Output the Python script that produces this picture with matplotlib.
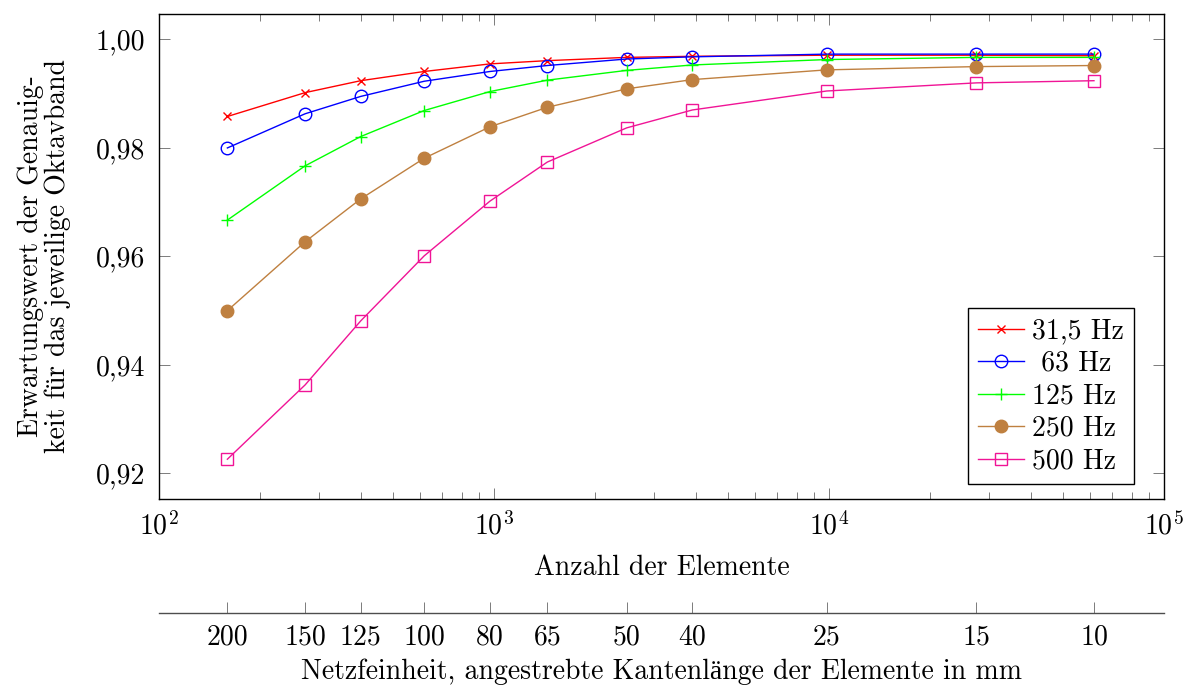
import numpy as np
import matplotlib
matplotlib.use("Agg")
import matplotlib.pyplot as plt
from matplotlib.ticker import FixedLocator, FuncFormatter, LogLocator, NullFormatter

plt.rcParams['font.family'] = ['cmr10', 'Liberation Serif']
plt.rcParams['mathtext.fontset'] = 'cm'
plt.rcParams['axes.formatter.use_mathtext'] = True
plt.rcParams['font.size'] = 20

# number of elements per mesh and target edge length (mm)
n_elements = [160, 273, 400, 619, 973, 1443, 2489, 3908, 9843, 27560, 61800]
edge_mm = ['200', '150', '125', '100', '80', '65', '50', '40', '25', '15', '10']

hz_31 = [0.9858, 0.9902, 0.9924, 0.9941, 0.9955, 0.9961, 0.9967, 0.9969, 0.9971, 0.9971, 0.9970]
hz_63 = [0.9800, 0.9863, 0.9895, 0.9923, 0.9941, 0.9952, 0.9964, 0.9968, 0.9973, 0.9973, 0.9973]
hz_125 = [0.9667, 0.9767, 0.9821, 0.9869, 0.9904, 0.9925, 0.9943, 0.9953, 0.9963, 0.9967, 0.9967]
hz_250 = [0.9500, 0.9627, 0.9706, 0.9781, 0.9839, 0.9875, 0.9909, 0.9926, 0.9944, 0.9950, 0.9952]
hz_500 = [0.9226, 0.9363, 0.9481, 0.9601, 0.9702, 0.9774, 0.9837, 0.9870, 0.9905, 0.9920, 0.9924]

fig = plt.figure(figsize=(11.86, 6.87), dpi=100)
ax = fig.add_axes([159/1186, 1 - 499/687, 1005/1186, 485/687])

ax.plot(n_elements, hz_31, color='#ff0000', marker='x', ms=6, mew=1.0, lw=1.0, label='31,5 Hz')
ax.plot(n_elements, hz_63, color='#0000ff', marker='o', ms=9, mfc='none', mew=1.0, lw=1.0, label=' 63 Hz')
ax.plot(n_elements, hz_125, color='#00ff00', marker='+', ms=9, mew=1.0, lw=1.0, label='125 Hz')
ax.plot(n_elements, hz_250, color='#bf8040', marker='o', ms=9, lw=1.0, label='250 Hz')
ax.plot(n_elements, hz_500, color='#f01496', marker='s', ms=8, mfc='none', mew=1.0, lw=1.0, label='500 Hz')

ax.set_xscale('log')
ax.set_xlim(100, 100000)
ax.set_ylim(0.91526, 1.0047)
ax.yaxis.set_major_locator(FixedLocator([0.92, 0.94, 0.96, 0.98, 1.00]))
ax.yaxis.set_major_formatter(FuncFormatter(lambda v, p: f"{v:.2f}".replace('.', ',')))
ax.xaxis.set_minor_locator(LogLocator(base=10, subs=np.arange(2, 10)))
ax.xaxis.set_minor_formatter(NullFormatter())

ax.tick_params(which='both', direction='in', top=True, right=True, color='0.4', width=0.6)
ax.tick_params(which='major', length=8)
ax.tick_params(which='minor', length=5)
ax.tick_params(axis='x', pad=9)
ax.tick_params(axis='y', pad=10)
for s in ax.spines.values():
    s.set_linewidth(1.0)

ax.set_xlabel('Anzahl der Elemente', labelpad=10)
ax.set_ylabel('Erwartungswert der Genauig-\nkeit für das jeweilige Oktavband',
              multialignment='center', va='center', linespacing=1.0)
ax.yaxis.set_label_coords(-0.1144, 0.5)

leg = ax.legend(loc='lower right', bbox_to_anchor=(0.970, 0.031), borderaxespad=0,
                fancybox=False, edgecolor='black', framealpha=1, handlelength=1.65,
                handletextpad=0.3, labelspacing=0.22, borderpad=0.35)
leg.get_frame().set_linewidth(1.0)

# second axis for mesh edge length
ax2 = fig.add_axes([159/1186, 1 - 613/687, 1005/1186, 0.01])
ax2.set_xscale('log')
ax2.set_xlim(100, 100000)
ax2.set_ylim(0, 1)
for k in ['top', 'left', 'right']:
    ax2.spines[k].set_visible(False)
ax2.spines['bottom'].set_linewidth(1.0)
ax2.spines['bottom'].set_color('0.3')
ax2.patch.set_visible(False)
ax2.set_yticks([])
ax2.set_xticks(n_elements)
ax2.set_xticklabels(edge_mm)
ax2.xaxis.set_minor_locator(FixedLocator([]))
ax2.tick_params(axis='x', direction='in', length=8, color='0.4', width=0.6, pad=8)
ax2.set_xlabel('Netzfeinheit, angestrebte Kantenlänge der Elemente in mm', labelpad=6)

fig.savefig('out.png', dpi=100)
